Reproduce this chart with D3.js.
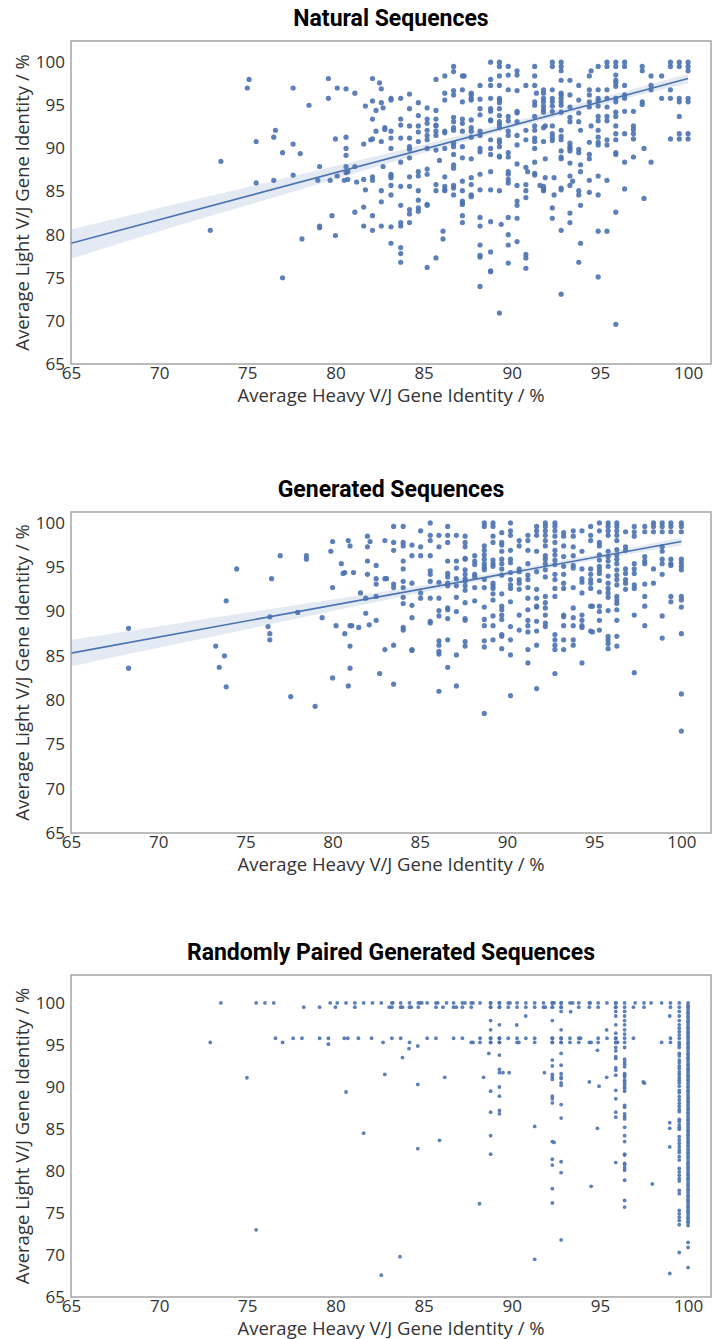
<!DOCTYPE html>
<html>
<head>
<meta charset="utf-8">
<script src="https://cdn.jsdelivr.net/npm/d3@7"></script>
<style>
  body { margin: 0; background: #fff; }
  svg { display: block; }
</style>
</head>
<body>
<svg id="chart" width="713" height="1339"></svg>
<script>
// ---- Axis ticks and labels ----
const xTicks = [65, 70, 75, 80, 85, 90, 95, 100];
const yTicks = [65, 70, 75, 80, 85, 90, 95, 100];
const panelTitles = ["Natural Sequences", "Generated Sequences", "Randomly Paired Generated Sequences"];
const xLabel = "Average Heavy V/J Gene Identity / %";
const yLabel = "Average Light V/J Gene Identity / %";

// ---- Natural sequences: [heavy identity, [light identities ...]] ----
const naturalPoints = [
  [72.9,[80.5]],[73.5,[88.5]],[75.0,[97.0]],[75.1,[98.0]],[75.5,[90.8,86.0]],[76.5,[91.3,86.3]],[76.6,[92.1]],
  [77.0,[89.5,75.0]],[77.6,[97.0,90.5,86.9]],[78.0,[89.4]],[78.1,[79.5]],[78.5,[95.0]],[79.0,[86.3]],
  [79.1,[87.9,81.0,80.8]],[79.6,[98.1,95.8]],[79.7,[86.3]],[79.8,[82.2]],[80.0,[91.1,79.9]],[80.1,[97.0,86.8]],
  [80.5,[86.3]],[80.6,[96.9,91.3,90.0,89.2,87.9,87.2]],[80.7,[87.3,86.4]],[81.1,[96.4,87.9,82.6]],[81.2,[86.1]],
  [81.6,[90.5,86.4,83.2,81.0]],[81.7,[94.9,85.2]],[82.0,[91.0]],[82.1,[98.1,95.5,93.4,91.1,86.7,86.3,82.2,80.5]],
  [82.3,[94.4,92.0]],[82.5,[97.6]],[82.6,[96.9,95.3,85.1,83.8,81.0,90.8]],[82.7,[94.7,87.9]],[82.8,[92.2,92.4]],
  [83.15,[95.8,95.6,92.0,91.2,90.0,87.0,86.8,86.6,85.7,84.6,80.9,79.0]],
  [83.7,[95.8,93.4,92.7,91.2,88.4,85.6,83.4,81.4,81.0,78.5,77.8,76.8]],
  [84.2,[96.3,94.6,92.6,91.2,90.2,89.9,88.9,86.7,85.6,82.9,82.4,81.4]],
  [84.7,[95.3,93.8,92.6,91.9,90.8,87.3,86.8,85.1,84.0,83.1,82.7]],
  [85.2,[94.7,93.4,92.9,92.1,91.5,91.0,90.0,87.6,87.0,83.5,83.4,76.2]],
  [85.7,[98.0,94.4,93.4,92.7,92.6,92.0,91.5,89.8,85.8,85.1,77.3]],
  [85.9,[88.6]],[86.1,[80.4,79.5]],
  [86.2,[96.4,98.4,95.6,92.0,91.8,90.0,86.7,85.1,85.2,85.6]],
  [86.7,[99.5,98.9,96.7,96.2,93.6,93.1,92.4,92.1,90.6,90.2,89.3,88.1,87.7,85.7,84.6,85.4]],
  [87.2,[98.4,96.8,95.4,93.4,92.9,92.0,90.2,88.9,86.2,85.1,83.9,83.7,83.5,82.2,81.4]],[87.3,[98.4]],
  [87.7,[96.4,96.2,95.8,95.6,93.3,92.4,92.0,91.3,88.8,86.6,85.8,84.6,84.4]],
  [88.2,[97.3,95.7,94.6,93.9,92.0,91.5,90.0,89.6,87.0,85.2,82.0,81.0,78.8,77.4,77.6,74.0]],
  [88.8,[100.0,98.0,97.3,95.8,94.6,94.3,93.3,93.2,91.0,90.0,89.3,87.3,85.2,81.5,78.0,75.8,75.7]],
  [89.3,[100.0,99.5,98.4,97.3,95.8,95.6,95.3,94.6,93.8,93.1,92.8,92.4,91.0,90.7,90.2,89.1,89.0,85.1,70.9]],
  [89.4,[81.2]],
  [89.8,[99.5,98.5,96.8,93.7,93.2,92.0,91.5,89.5,89.0,87.3,87.0,86.4,86.0,80.0,78.8,82.0,76.7]],
  [90.3,[98.5,99.0,96.7,94.3,94.1,93.1,91.5,90.4,88.2,85.7,83.9,83.4,81.9,79.2]],
  [90.8,[97.3,92.1,91.0,87.8,85.8,85.1,84.3,77.7,77.3,76.1]],[90.9,[87.3]],
  [91.3,[99.5,98.4,97.3,95.4,95.0,93.7,92.6,92.1,91.2,90.8,90.0,88.4,87.1,86.9]],[91.4,[96.4]],[91.6,[85.7]],
  [91.8,[96.8,96.4,95.8,95.4,94.9,94.5,94.2,92.4,90.8,85.6,85.3,85.2,85.1]],[91.9,[92.6,88.8,86.6]],
  [92.3,[100.0,99.5,96.8,95.8,95.4,94.9,94.3,92.6,91.7,91.3,90.9,83.1,81.9]],[92.4,[86.6,84.6]],
  [92.8,[100.0,99.5,99.0,97.9,96.4,96.2,95.8,95.4,95.0,94.2,92.1,91.4,91.0,89.7,89.0,88.8,85.4,85.2,80.5,73.1]],
  [93.3,[97.9,96.2,94.8,93.6,93.1,90.6,90.2,90.0,89.7,88.3,86.8,85.7,81.4,82.5]],[93.45,[86.2]],
  [93.8,[97.3,95.6,94.1,93.1,89.9,89.5,85.1,84.6,76.8]],[93.9,[92.1,88.1,87.3,83.4,79.0]],
  [94.4,[98.4,96.8,96.2,95.4,94.8,90.7,89.3,88.8,86.3,84.9]],[94.5,[99.0,92.6]],
  [94.9,[99.5,96.8,95.8,95.5,94.9,93.7,93.2,92.1,91.3,90.7,90.4,86.8,84.6,80.4,75.1]],
  [95.4,[100.0,99.5,96.8,95.8,94.8,93.7,93.2,91.0,90.4,86.3,80.4]],
  [95.9,[100.0,99.5,98.5,97.9,97.6,97.2,95.8,95.4,94.2,93.7,92.6,91.7,91.0,89.5,89.3,82.6,69.6]],
  [96.4,[100.0,99.5,97.3,96.2,95.8,94.3,91.7,88.4,85.3]],
  [96.9,[94.3,92.6,92.2,91.7,91.1,89.0]],
  [97.4,[99.5,99.0,95.4,95.1]],[97.5,[90.0,84.2]],
  [97.9,[98.4,97.3,96.8,88.4]],
  [98.5,[98.4,95.8]],
  [99.0,[100.0,99.5,96.8,95.8,91.1]],
  [99.5,[100.0,99.5,95.8,95.4,93.7,91.7,91.1]],
  [100.0,[100.0,99.5,99.0,95.8,95.4,91.7,91.1]]
];
// Fitted trend and its confidence band: [heavy, light] and [heavy, lower, upper]
const naturalFit = [[65, 79.0], [100, 98.1]];
const naturalBand = [[65,77.2,80.6],[70,80.4,83.1],[75,83.4,85.5],[80,86.45,87.95],[85,89.45,90.45],
  [90,92.3,93.05],[95,95.0,95.8],[100,97.55,98.65]];

// ---- Generated sequences ----
const generatedPoints = [
  [68.3,[88.1,83.6]],[73.3,[86.1]],[73.5,[83.7]],[73.8,[85.0]],[73.9,[91.2,81.5]],[74.5,[94.8]],[76.3,[88.3]],
  [76.4,[89.4,87.5,86.8]],[76.5,[93.7]],[77.0,[96.3]],[77.6,[80.4]],[78.0,[89.9]],[78.5,[96.3,95.9]],[79.0,[79.3]],
  [79.4,[89.3]],[79.9,[96.8]],[80.0,[97.9,92.7,82.5]],[80.2,[88.4]],[80.5,[95.4]],[80.6,[94.3]],[80.7,[94.4,87.5]],
  [80.9,[98.0,81.6]],[81.0,[97.4,88.4,86.1,83.6]],[81.1,[88.4]],[81.2,[94.4]],[81.5,[88.2]],[81.6,[92.1]],
  [81.9,[91.5,89.8]],[82.0,[98.5,97.3,95.7,94.2]],[82.1,[88.5]],[82.15,[97.9]],[82.5,[95.2,93.7,93.1,91.7,89.0]],
  [82.7,[83.0]],[83.0,[98.0,93.7,85.7]],[83.1,[93.7]],
  [83.5,[99.6,97.8,96.9,93.1,92.7,86.2,81.8]],
  [84.05,[99.6,97.8,97.4,95.7,94.8,93.4,92.7,91.6,90.9,88.2,87.9]],
  [84.55,[97.5,96.3,93.2,90.7,89.3,85.7,85.6]],
  [85.05,[99.1,97.3,96.3,92.1,91.5]],
  [85.6,[100.0,98.6,98.0,96.3,94.6,94.2,93.4,91.5,88.9,88.7]],
  [86.1,[98.6,97.3,93.3,91.5,90.1,89.5,86.7,86.2,85.2,85.5,81.0]],
  [86.6,[99.6,98.6,97.8,95.7,94.3,93.9,93.2,92.9,90.4,90.2,89.2,86.8,83.7]],
  [87.1,[98.6,95.7,94.9,93.7,92.9,91.6,90.0,85.1,81.6]],
  [87.6,[98.5,97.8,97.3,96.0,95.9,94.7,94.2,93.7,93.4,92.9,92.4,91.0,89.2,89.0,86.6,86.1]],
  [88.15,[96.3,95.7,95.3,94.2,93.9,92.7,91.2]],
  [88.7,[100.0,99.6,97.4,96.9,96.4,95.9,95.4,95.0,94.7,93.6,92.7,90.5,89.1,88.4,86.7,86.0,78.5]],
  [89.2,[100.0,99.6,98.5,97.8,95.8,95.4,95.1,93.2,92.9,92.6,92.0,91.3,89.5,88.4,86.8]],
  [89.7,[98.9,97.8,97.5,96.8,95.9,95.4,94.8,94.1,92.0,90.6,90.2,89.6,89.1,87.4,85.8,87.2]],
  [90.2,[100.0,99.1,98.6,96.9,95.9,95.5,94.4,93.6,93.0,92.6,91.1,88.3,86.8,85.1,80.5]],
  [90.7,[98.0,97.4,94.8,94.5,93.6,93.2,92.5,89.6,87.9]],
  [91.2,[98.6,98.0,96.9,95.4,94.1,93.6,92.7,91.5,90.2,89.0,88.4,87.7,85.7,84.2]],
  [91.7,[99.6,99.1,98.6,96.8,94.5,92.5,91.5,90.6,88.9,87.8,86.2,81.3,90.5]],
  [92.2,[100.0,99.6,99.1,98.6,98.0,97.4,96.3,95.9,95.4,94.7,93.9,91.7,91.0,90.4,89.6,88.7,88.3]],
  [92.75,[100.0,99.6,99.1,98.5,97.8,96.9,96.4,95.8,95.3,94.2,93.6,92.6,91.7,87.4,86.8,86.2,85.7,83.0]],
  [93.25,[98.9,98.5,97.4,96.2,95.1,94.2,93.2,92.6,89.6,89.4,88.4,86.8,85.7]],
  [93.8,[99.1,98.5,97.3,96.3,95.2,94.9,92.7,90.4,89.3,88.4,86.8,86.2]],
  [94.3,[99.1,96.8,94.8,93.7,93.3,92.1,89.6,89.0,88.4,88.2,84.2]],
  [94.8,[99.6,98.6,98.0,94.8,94.2,93.6,93.2,92.6,90.6,87.8]],[94.9,[90.6,87.7]],
  [95.3,[100.0,99.1,97.8,97.4,96.4,95.8,95.1,94.7,94.3,93.5,92.2,90.6,90.0,89.0,87.9]],
  [95.8,[100.0,99.6,99.1,98.6,96.8,96.2,95.7,95.1,94.0,93.2,92.6,92.1,91.6,90.1,87.2,86.8,86.4,85.8]],
  [96.3,[100.0,99.6,99.1,98.6,98.0,97.0,96.4,95.9,95.4,94.7,94.1,93.6,93.0,91.7,91.3,90.9,90.2,89.0,87.2,86.1]],
  [96.8,[99.0,97.3,96.9,94.8,94.3,93.6,93.2,92.5]],
  [97.3,[99.6,99.0,98.5,95.4,94.8,94.3,93.0,92.6,89.6,83.1]],
  [97.9,[99.6,99.0,96.2,95.7,95.4,93.1,91.7,90.6,88.4]],
  [98.4,[100.0,99.6,99.0,94.8,93.2]],
  [98.9,[100.0,99.6,99.0,97.3,96.8,95.9,95.4,94.2,89.5,87.0]],
  [99.4,[100.0,99.6,99.0,95.9,95.4,95.2,91.7,91.1]],
  [100.0,[100.0,99.6,99.0,95.9,95.5,95.1,94.7,91.7,91.3,90.5,87.5,80.7,76.5]]
];
const generatedFit = [[65, 85.3], [100, 97.9]];
const generatedBand = [[65,83.8,86.8],[70,85.9,88.3],[75,87.95,89.85],[80,90.05,91.35],[85,92.08,92.92],
  [90,94.0,94.6],[95,95.78,96.42],[100,97.45,98.35]];

// ---- Randomly paired generated sequences ----
// rows: [light identity, [heavy identities ...]]
const randomRows = [
  [100.0,[73.5,75.5,76.0,76.5,79.7,80.1,80.6,81.1,81.6,82.1,82.6,83.2,83.25,83.7,84.2,84.7,84.8,84.9,85.2,85.7,85.8,
          86.3,86.7,87.2,87.35,87.7,87.8,88.2,88.8,89.3,89.8,89.9,90.3,90.8,91.3,91.8,92.3,92.4,92.8,93.3,93.45,93.8,
          94.4,94.45,94.9,95.4,95.9,97.0,97.5,97.9,98.5,99.0]],
  [99.5,[78.2,79.1,80.0,81.1,83.05,83.2,83.7,83.8,84.2,84.3,84.7,85.7,86.1,86.7,86.85,87.2,87.7,88.8,89.3,89.8,
         90.3,90.8,91.3,91.8,91.9,92.3,92.8,93.8,94.4,94.9,95.9,96.9,97.5,99.0]],
  [95.8,[76.6,77.6,78.1,79.1,79.6,80.5,80.7,81.3,82.05,83.2,83.7,85.2,85.7,86.7,87.2,88.2,88.8,89.3,89.8,90.3,
         90.8,91.3,92.3,92.8,93.3,93.8,93.9,94.9,95.4,95.9,96.9,99.0]],
  [95.3,[72.9,77.0,82.7,84.2,87.7,87.8,88.2,88.8,89.3,90.3,90.4,91.3,92.3,92.8,93.3,93.8,94.4,94.5,94.9,95.9,
         96.0,98.5,99.0]]
];
// columns: [heavy identity, [light identities ...]]
const randomColumns = [
  [100.0,[100.0,99.7,99.5,99.2,98.9,98.7,98.4,98.2,97.9,97.7,97.4,97.1,96.9,96.6,96.4,96.1,95.9,95.6,95.3,95.1,
          94.8,94.6,94.3,94.0,93.8,93.5,93.3,93.0,92.7,92.5,92.2,92.0,91.7,91.4,91.2,90.9,90.7,90.4,90.1,89.9,
          89.6,89.4,89.1,88.8,88.6,88.3,88.1,87.8,87.5,87.3,87.0,86.8,86.5,86.2,86.0,85.7,85.5,85.2,84.9,84.7,
          84.4,84.2,83.9,83.6,83.4,83.1,82.9,82.6,82.3,82.1,81.8,81.6,81.3,81.0,80.8,80.5,80.3,80.0,79.7,79.5,
          79.2,79.0,78.7,78.4,78.2,77.9,77.7,77.4,77.1,76.9,76.6,76.4,76.1,75.8,75.6,75.3,75.1,74.8,74.5,74.3,
          74.0,73.8,73.5,71.5,70.9,68.5]],
  [99.5,[100.0,99.5,99.0,98.45,97.9,97.4,97.0,96.6,96.2,95.8,95.3,95.0,94.7,94.0,93.7,93.2,92.9,92.5,92.2,91.8,
         91.5,91.1,90.8,90.5,90.1,89.6,89.3,88.85,88.45,88.05,87.7,87.3,87.06,86.15,85.9,85.5,85.2,84.96,84.1,
         83.7,83.3,82.9,82.5,82.2,81.7,81.3,80.3,79.9,79.5,79.1,78.8,77.7,77.3,75.3,74.9,74.5,74.1,73.6,70.3]],
  [96.4,[100.0,99.5,99.0,98.45,97.9,97.4,96.8,96.3,95.8,95.3,94.7,93.3,93.0,92.7,92.4,91.6,91.4,91.2,90.8,90.6,
         90.3,90.0,89.8,89.5,87.8,87.6,86.8,86.5,86.2,85.2,84.2,83.5,82.0,81.9,80.9,80.75,80.4,80.1,78.9,76.5,75.7]],
  [95.9,[100.0,99.5,99.0,98.45,97.4,96.4,95.8,95.3,94.7,93.6,93.4,92.3,92.0,91.4,89.6,88.6,87.0,86.4,81.0]],
  [92.8,[100.0,99.5,99.0,96.8,95.8,95.3,94.0,92.6,91.6,91.2,91.0,90.5,90.2,87.9,86.3,81.1,79.8,71.8]],
  [92.3,[100.0,99.5,97.9,95.8,95.3,93.2,92.5,91.5,91.2,90.9,88.9,88.6,88.1,83.5,81.4,80.7,77.9,76.2]],
  [89.3,[100.0,99.5,97.4,95.8,95.3,93.8,92.1,91.7,90.0,88.9,87.2,86.8]],
  [88.8,[100.0,99.5,97.9,96.8,95.8,95.3,89.5,87.0,84.2,82.0]]
];
// isolated pairs: [heavy, light]
const randomScatter = [
  [74.98,91.1],[75.5,73.0],[79.6,95.1],[80.6,89.4],[81.6,84.5],[82.6,67.6],[82.8,91.5],
  [84.17,94.56],[84.67,94.88],[83.8,93.5],[94.86,94.36],[95.38,91.15],[94.4,90.6],[94.95,90.1],[84.67,90.3],
  [86.2,91.15],[91.85,91.7],[97.46,90.6],[97.52,90.45],[91.3,85.3],[94.86,85.08],[98.96,85.75],[98.96,85.08],
  [85.9,83.65],[98.96,82.86],[84.67,82.66],[94.5,78.17],[97.97,78.45],[88.17,76.1],[83.66,69.8],
  [91.3,69.48],[98.96,67.8],[93.34,98.97],[90.79,98.45],[98.96,98.45],[90.28,97.38],[95.38,96.79],
  [88.7,94.0],[88.4,91.15],[89.5,91.7],[89.85,91.7],[92.4,83.4],[95.9,94.3]
];

// ---- Layout ----
const W = 713, plotLeft = 71, plotRight = 711;
const panels = [
  { title: panelTitles[0], top: 41, bottom: 364, xMax: 101.3, yMax: 102.45, r: 2.6,
    points: naturalPoints.flatMap(([x, ys]) => ys.map(y => [x, y])), fit: naturalFit, band: naturalBand },
  { title: panelTitles[1], top: 512, bottom: 833, xMax: 101.7, yMax: 101.23, r: 2.6,
    points: generatedPoints.flatMap(([x, ys]) => ys.map(y => [x, y])), fit: generatedFit, band: generatedBand },
  { title: panelTitles[2], top: 975, bottom: 1297, xMax: 101.3, yMax: 103.33, r: 1.9,
    points: [
      ...randomRows.flatMap(([y, xs]) => xs.map(x => [x, y])),
      ...randomColumns.flatMap(([x, ys]) => ys.map(y => [x, y])),
      ...randomScatter
    ], fit: null, band: null }
];

const svg = d3.select("#chart");
svg.append("rect").attr("width", W).attr("height", 1339).attr("fill", "#fff");

const pointColor = "#4c72b0";
const labelFont = "'Open Sans', 'DejaVu Sans', sans-serif";

panels.forEach((p, i) => {
  const x = d3.scaleLinear().domain([65, p.xMax]).range([plotLeft, plotRight]);
  const y = d3.scaleLinear().domain([65, p.yMax]).range([p.bottom, p.top]);
  const g = svg.append("g").attr("class", "panel-" + i);
  const clipId = "clip" + i;
  g.append("clipPath").attr("id", clipId).append("rect")
    .attr("x", plotLeft).attr("y", p.top).attr("width", plotRight - plotLeft).attr("height", p.bottom - p.top);

  // title
  g.append("text")
    .attr("x", (plotLeft + plotRight) / 2).attr("y", p.top - 15)
    .attr("text-anchor", "middle")
    .attr("font-family", "Roboto, 'Liberation Sans', sans-serif")
    .attr("font-weight", 700).attr("font-size", 23).attr("fill", "#000")
    .text(p.title);

  // confidence band, points and fitted line
  const plot = g.append("g").attr("clip-path", `url(#${clipId})`);
  if (p.band) {
    plot.append("path").datum(p.band)
      .attr("d", d3.area().x(d => x(d[0])).y0(d => y(d[1])).y1(d => y(d[2])).curve(d3.curveMonotoneX))
      .attr("fill", pointColor).attr("fill-opacity", 0.15);
  }
  plot.append("g").selectAll("circle").data(p.points).join("circle")
    .attr("cx", d => x(d[0])).attr("cy", d => y(d[1])).attr("r", p.r)
    .attr("fill", pointColor).attr("fill-opacity", 0.9);
  if (p.fit) {
    plot.append("path").datum(p.fit)
      .attr("d", d3.line().x(d => x(d[0])).y(d => y(d[1])))
      .attr("fill", "none").attr("stroke", pointColor).attr("stroke-width", 1.6);
  }

  // frame
  g.append("rect")
    .attr("x", plotLeft).attr("y", p.top)
    .attr("width", plotRight - plotLeft).attr("height", p.bottom - p.top)
    .attr("fill", "none").attr("stroke", "#9e9e9e").attr("stroke-width", 1.4);

  // x axis (labels only)
  const xAxis = d3.axisBottom(x).tickValues(xTicks).tickSize(0).tickPadding(3);
  const xg = g.append("g").attr("transform", `translate(0,${p.bottom})`).call(xAxis);
  xg.select(".domain").remove();
  xg.selectAll("text").attr("font-family", labelFont).attr("font-size", 17).attr("fill", "#333");

  // y axis (labels only)
  const yAxis = d3.axisLeft(y).tickValues(yTicks).tickSize(0).tickPadding(6);
  const yg = g.append("g").attr("transform", `translate(${plotLeft},0)`).call(yAxis);
  yg.select(".domain").remove();
  yg.selectAll("text").attr("font-family", labelFont).attr("font-size", 17).attr("fill", "#333");

  // axis titles
  g.append("text")
    .attr("x", (plotLeft + plotRight) / 2).attr("y", p.bottom + 38)
    .attr("text-anchor", "middle")
    .attr("font-family", labelFont).attr("font-size", 18.5).attr("fill", "#333")
    .text(xLabel);
  g.append("text")
    .attr("transform", `translate(29,${(p.top + p.bottom) / 2}) rotate(-90)`)
    .attr("text-anchor", "middle")
    .attr("font-family", labelFont).attr("font-size", 18.5).attr("fill", "#333")
    .text(yLabel);
});
</script>
</body>
</html>
